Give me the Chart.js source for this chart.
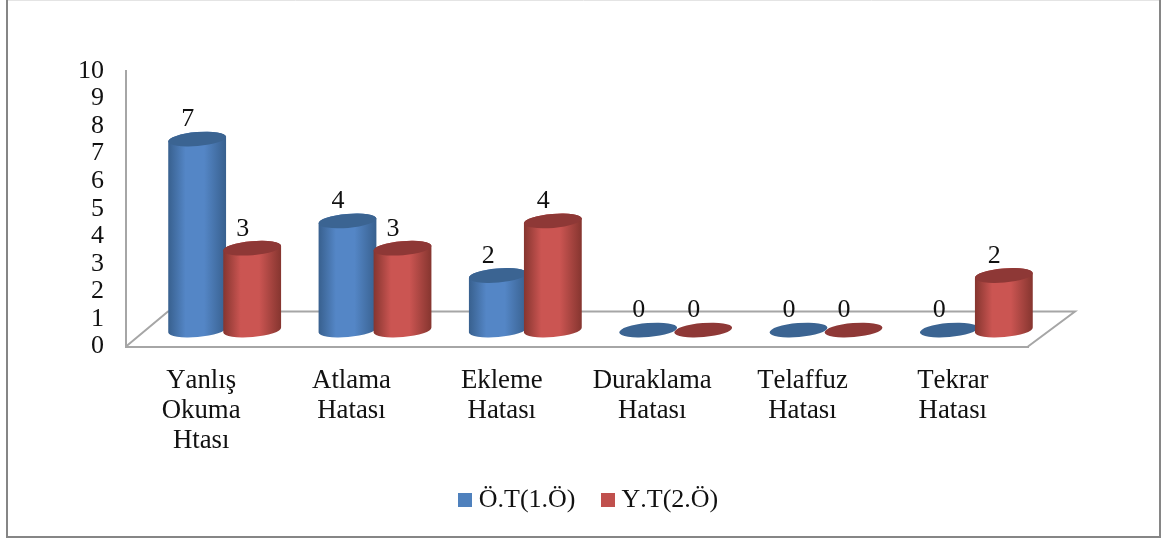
<!DOCTYPE html>
<html lang="tr">
<head>
<meta charset="utf-8">
<title>Okuma hataları</title>
<script src="https://cdn.jsdelivr.net/npm/chart.js@4"></script>
<style>
  html, body { margin: 0; padding: 0; background: #ffffff; }
  canvas { display: block; }
</style>
</head>
<body>
<canvas id="errorChart" width="1166" height="540"></canvas>
<script>
// Chart data
const categories = [['Yanlış', 'Okuma', 'Htası'], ['Atlama', 'Hatası'], ['Ekleme', 'Hatası'], ['Duraklama', 'Hatası'], ['Telaffuz', 'Hatası'], ['Tekrar', 'Hatası']];
const firstSeriesName = 'Ö.T(1.Ö)';
const secondSeriesName = 'Y.T(2.Ö)';
const firstSeriesValues = [7, 4, 2, 0, 0, 0];
const secondSeriesValues = [3, 3, 4, 0, 0, 2];
const yTickLabels = [0, 1, 2, 3, 4, 5, 6, 7, 8, 9, 10];

const FONT = '"Liberation Serif", "Times New Roman", serif';
const AXIS_GREY = '#a6a6a6';
const TEXT_COLOR = '#111111';

// Fake 3D settings: how far the floor goes back, and the cylinder look
const DEPTH_X = 47;
const DEPTH_Y = 35;
const BAR_SHIFT_X = 23.5;
const BAR_SHIFT_Y = 16.5;
const ELLIPSE_RY = 7;
const ELLIPSE_TILT = -0.085;

const seriesLooks = [
    { swatch: '#4f81bd', top: '#3b6492', edge: '#38608e', mid: '#5486c6' },
    { swatch: '#c0504d', top: '#8e3836', edge: '#85352f', mid: '#cb5552' }
];

// Square legend swatch as an image, so the gap to the text can stay small
function makeSwatch(color) {
    const swatch = document.createElement('canvas');
    swatch.width = 14;
    swatch.height = 14;
    const swatchContext = swatch.getContext('2d');
    swatchContext.fillStyle = color;
    swatchContext.fillRect(0, 0, 14, 14);
    return swatch;
}

// The original text has no kerning (Y.T, Tekrar come out wider)
const kerningPlugin = {
    id: 'kerningPlugin',
    beforeLayout(chart) {
        chart.ctx.fontKerning = 'none';
    },
    beforeDraw(chart) {
        chart.ctx.fontKerning = 'none';
    }
};

// Outer frame and the floor of the 3D box, drawn behind the bars
const framePlugin = {
    id: 'framePlugin',
    beforeDatasetsDraw(chart) {
        const ctx = chart.ctx;
        const area = chart.chartArea;
        ctx.save();
        ctx.strokeStyle = '#e4e4e4';
        ctx.lineWidth = 1;
        ctx.beginPath();
        ctx.moveTo(7, 0.5);
        ctx.lineTo(1160, 0.5);
        ctx.stroke();
        ctx.strokeStyle = '#868686';
        ctx.lineWidth = 2;
        ctx.beginPath();
        ctx.moveTo(7, 0);
        ctx.lineTo(7, 537);
        ctx.lineTo(1160, 537);
        ctx.lineTo(1160, 0);
        ctx.stroke();

        ctx.strokeStyle = AXIS_GREY;
        ctx.lineWidth = 2;
        ctx.beginPath();
        ctx.moveTo(area.left, area.bottom);
        ctx.lineTo(area.left + 42, area.bottom - DEPTH_Y);
        ctx.lineTo(area.right + DEPTH_X, area.bottom - DEPTH_Y);
        ctx.lineTo(area.right, area.bottom);
        ctx.stroke();
        ctx.restore();
    }
};

// Draws each bar element as a tilted cylinder, with its value above it
const cylinderPlugin = {
    id: 'cylinderPlugin',
    afterDatasetsDraw(chart) {
        const ctx = chart.ctx;
        chart.data.datasets.forEach((dataset, datasetIndex) => {
            const look = seriesLooks[datasetIndex];
            chart.getDatasetMeta(datasetIndex).data.forEach((bar, index) => {
                const cx = bar.x + BAR_SHIFT_X;
                const rx = bar.width / 2 + 1.5;
                const baseY = bar.base - BAR_SHIFT_Y;
                const topY = bar.y - BAR_SHIFT_Y + (bar.base - bar.y) * 0.01;

                ctx.save();
                if (dataset.data[index] > 0) {
                    const body = ctx.createLinearGradient(cx - rx, 0, cx + rx, 0);
                    body.addColorStop(0, look.edge);
                    body.addColorStop(0.3, look.mid);
                    body.addColorStop(0.62, look.mid);
                    body.addColorStop(1, look.edge);
                    ctx.fillStyle = body;
                    ctx.beginPath();
                    ctx.ellipse(cx, baseY, rx, ELLIPSE_RY, ELLIPSE_TILT, 0, Math.PI);
                    ctx.ellipse(cx, topY, rx, ELLIPSE_RY, ELLIPSE_TILT, Math.PI, 2 * Math.PI);
                    ctx.closePath();
                    ctx.fill();
                }
                ctx.fillStyle = look.top;
                ctx.beginPath();
                ctx.ellipse(cx, topY, rx, ELLIPSE_RY, ELLIPSE_TILT, 0, 2 * Math.PI);
                ctx.fill();

                ctx.fillStyle = TEXT_COLOR;
                ctx.font = '26px ' + FONT;
                ctx.textAlign = 'center';
                ctx.textBaseline = 'middle';
                ctx.fillText(String(dataset.data[index]), cx - 9.5, topY - 19.5);
                ctx.restore();
            });
        });
    }
};

// Legend sits right of the plot centre and higher than its padding would put it
const legendShiftPlugin = {
    id: 'legendShiftPlugin',
    afterLayout(chart) {
        chart.legend.left += 49.5;
        chart.legend.right += 49.5;
        chart.legend.top -= 20;
        chart.legend.bottom -= 20;
    }
};

new Chart(document.getElementById('errorChart').getContext('2d'), {
    type: 'bar',
    data: {
        labels: categories,
        datasets: [
            { label: firstSeriesName, data: firstSeriesValues, backgroundColor: 'rgba(0,0,0,0)', pointStyle: makeSwatch(seriesLooks[0].swatch) },
            { label: secondSeriesName, data: secondSeriesValues, backgroundColor: 'rgba(0,0,0,0)', pointStyle: makeSwatch(seriesLooks[1].swatch) }
        ]
    },
    options: {
        responsive: false,
        animation: false,
        events: [],
        layout: { padding: { left: 56, right: 138, top: 71, bottom: -3 } },
        datasets: { bar: { categoryPercentage: 0.732, barPercentage: 1 } },
        scales: {
            x: {
                grid: { display: false, drawTicks: false },
                border: { display: true, color: AXIS_GREY, width: 2 },
                ticks: {
                    color: TEXT_COLOR,
                    font: { family: FONT, size: 26.8, lineHeight: 1.125 },
                    padding: 19,
                    maxRotation: 0,
                    autoSkip: false
                }
            },
            y: {
                min: 0,
                max: 10,
                afterBuildTicks(scale) {
                    scale.ticks = yTickLabels.map(value => ({ value: value }));
                },
                grid: { display: false, drawTicks: false },
                border: { display: true, color: AXIS_GREY, width: 2 },
                ticks: {
                    color: TEXT_COLOR,
                    font: { family: FONT, size: 26 },
                    padding: 22,
                    autoSkip: false
                }
            }
        },
        plugins: {
            title: { display: false },
            tooltip: { enabled: false },
            legend: {
                display: true,
                position: 'bottom',
                labels: {
                    color: TEXT_COLOR,
                    font: { family: FONT, size: 26 },
                    usePointStyle: true,
                    boxWidth: 1,
                    boxHeight: 14,
                    padding: 32,
                    generateLabels(chart) {
                        return chart.data.datasets.map((dataset, index) => ({
                            text: dataset.label,
                            pointStyle: dataset.pointStyle,
                            fontColor: TEXT_COLOR,
                            lineWidth: 0,
                            datasetIndex: index
                        }));
                    }
                }
            }
        }
    },
    plugins: [kerningPlugin, framePlugin, cylinderPlugin, legendShiftPlugin]
});
</script>
</body>
</html>
